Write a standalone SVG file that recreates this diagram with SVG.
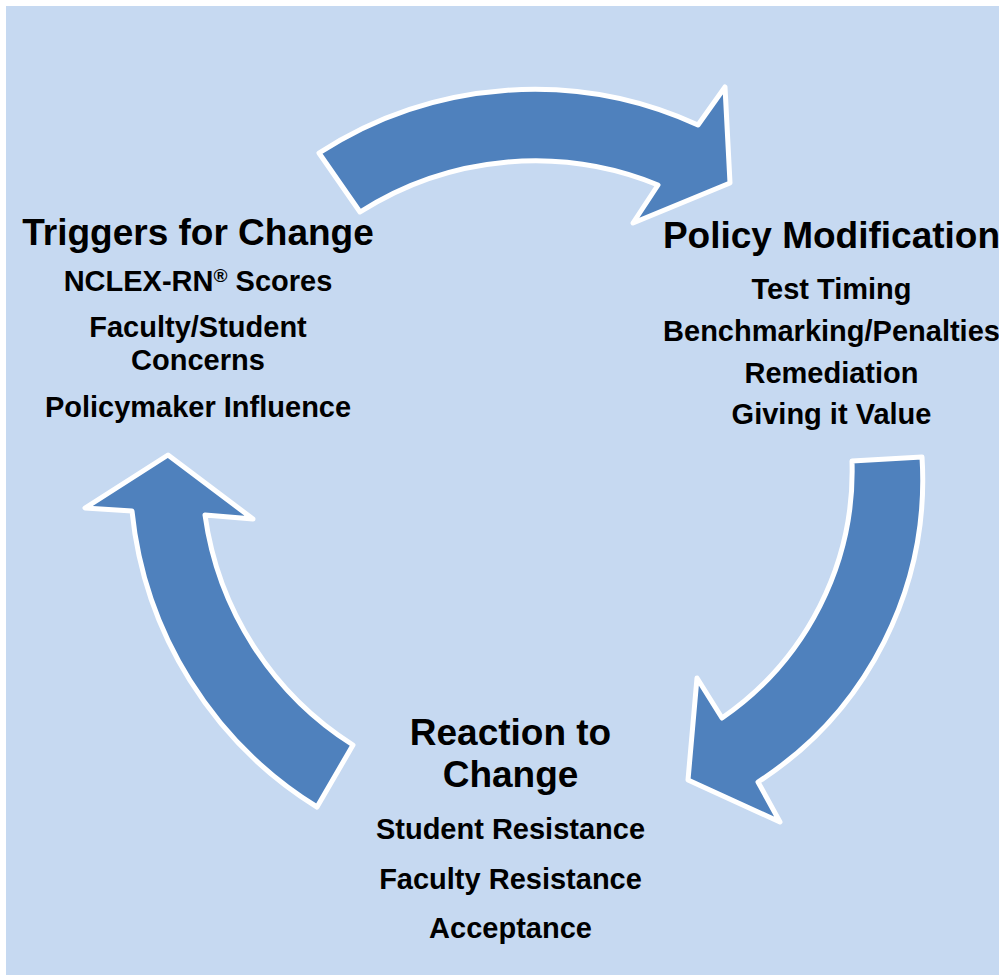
<svg xmlns="http://www.w3.org/2000/svg" width="999" height="975" viewBox="0 0 999 975">
  <style>
    .arrow { fill: #4F81BD; stroke: #FFFFFF; stroke-width: 5; stroke-linejoin: round; }
    .title { font-family: "Liberation Sans", Arial, sans-serif; font-weight: bold; font-size: 37px; fill: #000000; text-anchor: middle; }
    .item { font-family: "Liberation Sans", Arial, sans-serif; font-weight: bold; font-size: 29px; fill: #000000; text-anchor: middle; }
  </style>

  <!-- page background -->
  <rect x="0" y="0" width="999" height="975" fill="#FFFFFF"/>
  <rect x="6" y="6" width="993" height="969" fill="#C6D9F1"/>

  <!-- curved cycle arrows -->
  <g id="connectors">
    <path id="arrow-top" class="arrow" d="M319,153 A395,395 0 0 1 698,125 L725,87 L730,183 L633,223 L658,185 A325,325 0 0 0 360,212 Z"/>
    <path id="arrow-right" class="arrow" d="M922,457 A360,360 0 0 1 758,782 L780,822 L688,780 L697,678 L722,718 A300,300 0 0 0 852,461 Z"/>
    <path id="arrow-left" class="arrow" d="M132,511 A395,395 0 0 0 317,807 L353,745 A325,325 0 0 1 205,515 L253,519 L168,455 L85,508 Z"/>
  </g>

  <g id="node-triggers">
    <text class="title" x="198" y="245">Triggers for Change</text>
    <text class="item" x="198" y="291">NCLEX-RN<tspan font-size="19" dy="-9">®</tspan><tspan dy="9"> Scores</tspan></text>
    <text class="item" x="198" y="337">Faculty/Student</text>
    <text class="item" x="198" y="370">Concerns</text>
    <text class="item" x="198" y="417">Policymaker Influence</text>
  </g>

  <g id="node-policy">
    <text class="title" x="831.5" y="248">Policy Modification</text>
    <text class="item" x="831.5" y="299">Test Timing</text>
    <text class="item" x="831.5" y="341">Benchmarking/Penalties</text>
    <text class="item" x="831.5" y="383">Remediation</text>
    <text class="item" x="831.5" y="424">Giving it Value</text>
  </g>

  <g id="node-reaction">
    <text class="title" x="510.5" y="745">Reaction to</text>
    <text class="title" x="510.5" y="787">Change</text>
    <text class="item" x="510.5" y="839">Student Resistance</text>
    <text class="item" x="510.5" y="889">Faculty Resistance</text>
    <text class="item" x="510.5" y="938">Acceptance</text>
  </g>
</svg>
